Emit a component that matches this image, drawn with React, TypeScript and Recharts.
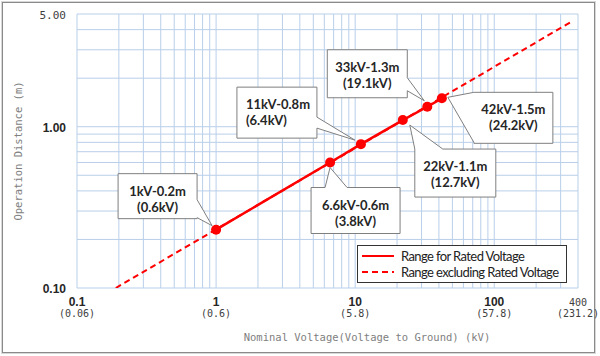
import { ComposedChart, Line, XAxis, YAxis, ReferenceLine, LabelList, Legend, Label } from 'recharts';

// rated voltage range (kV nominal -> operation distance m)
const ratedKV = [1, 6.6, 11, 22, 33, 42];
const ratedDist = [0.23, 0.6, 0.78, 1.1, 1.33, 1.5];
// extension outside rated voltage
const extKV = [0.19, 370];
const extDist = [0.1, 4.55];

const calloutTitle = ['1kV-0.2m', '6.6kV-0.6m', '11kV-0.8m', '22kV-1.1m', '33kV-1.3m', '42kV-1.5m'];
const calloutSub = ['(0.6kV)', '(3.8kV)', '(6.4kV)', '(12.7kV)', '(19.1kV)', '(24.2kV)'];

const xTicks = [0.1, 1, 10, 100, 400];
const xTickGround = ['(0.06)', '(0.6)', '(5.8)', '(57.8)', '(231.2)'];
const yTicks = [0.1, 1, 5];
const yTickText = ['0.10', '1.00', '5.00'];

const gridX = [0.1, 0.2, 0.3, 0.4, 0.5, 0.6, 0.7, 0.8, 0.9, 1, 2, 3, 4, 5, 6, 7, 8, 9, 10, 20, 30, 40, 50, 60, 70, 80, 90, 100, 200, 300, 400];
const gridY = [0.1, 0.2, 0.3, 0.4, 0.5, 0.6, 0.7, 0.8, 0.9, 1, 2, 3, 4, 5];

const legendNames = ['Range for Rated Voltage', 'Range excluding Rated Voltage'];

const rated = ratedKV.map((x, i) => ({ x, y: ratedDist[i] }));
const extended = extKV.map((x, i) => ({ x, y: extDist[i] }));

// callout box placement relative to its point (pixels)
const calloutLayout = [
  { bx: -98, by: -56, w: 79, h: 45, side: 'right', b0: -30, b1: -12, tx: -4, ty: -4, align: 'middle' },
  { bx: -19, by: 25, w: 89, h: 46, side: 'top', b0: -5, b1: 17, tx: 0, ty: 5, align: 'middle' },
  { bx: -124, by: -57, w: 80, h: 51, side: 'right', b0: -27, b1: -16, tx: -6, ty: -4, align: 'start' },
  { bx: 12, by: 29, w: 81, h: 48, side: 'top', b0: 12, b1: 40, tx: 7, ty: 5, align: 'middle' },
  { bx: -100, by: -57, w: 80, h: 48, side: 'right', b0: -29, b1: -16, tx: -3, ty: -6, align: 'middle' },
  { bx: 32, by: -6, w: 79, h: 51, side: 'left', b0: -6, b1: 44, tx: 6, ty: -1, align: 'middle' },
];

const mono = '"DejaVu Sans Mono", monospace';
const body = 'Lato, "Liberation Sans", sans-serif';
const gridColor = '#b9cfea';

function Callout(props: any) {
  const { x, y, index } = props;
  const c = calloutLayout[index];
  if (!c) return null;
  const x0 = x + c.bx, y0 = y + c.by, x1 = x0 + c.w, y1 = y0 + c.h;
  const tip = `${x + c.tx},${y + c.ty}`;
  let pts: string[] = [];
  if (c.side === 'top') pts = [`${x0},${y0}`, `${x + c.b0},${y0}`, tip, `${x + c.b1},${y0}`, `${x1},${y0}`, `${x1},${y1}`, `${x0},${y1}`];
  if (c.side === 'right') pts = [`${x0},${y0}`, `${x1},${y0}`, `${x1},${y + c.b0}`, tip, `${x1},${y + c.b1}`, `${x1},${y1}`, `${x0},${y1}`];
  if (c.side === 'left') pts = [`${x0},${y0}`, `${x1},${y0}`, `${x1},${y1}`, `${x0},${y1}`, `${x0},${y + c.b1}`, tip, `${x0},${y + c.b0}`];
  const tx = c.align === 'start' ? x0 + 9 : (x0 + x1) / 2;
  return (
    <g>
      <polygon points={pts.join(' ')} fill="#ffffff" stroke="#7f7f7f" strokeWidth={1} />
      <text x={tx} y={y0 + 17} textAnchor={c.align} dominantBaseline="central" fontFamily={body} fontWeight={700} fontSize={13} fill="#262626">{calloutTitle[index]}</text>
      <text x={tx} y={y0 + 33} textAnchor={c.align} dominantBaseline="central" fontFamily={body} fontWeight={700} fontSize={13} fill="#262626">{calloutSub[index]}</text>
    </g>
  );
}

function XTick(props: any) {
  const { x, y, payload } = props;
  const i = xTicks.indexOf(payload.value);
  const last = payload.value === 400;
  return (
    <g>
      <text x={x} y={y + 14} textAnchor="middle" dominantBaseline="central"
        fontFamily={last ? mono : '"Liberation Sans", sans-serif'} fontWeight={last ? 400 : 700} fontSize={last ? 10 : 12} fill={last ? '#404040' : '#262626'}>
        {payload.value}
      </text>
      <text x={x} y={y + 25} textAnchor="middle" dominantBaseline="central" fontFamily={mono} fontSize={10} fill="#404040">
        {xTickGround[i]}
      </text>
    </g>
  );
}

function YTick(props: any) {
  const { x, y, payload } = props;
  const i = yTicks.indexOf(payload.value);
  const top = payload.value === 5;
  return (
    <text x={x - 11} y={y + 1} textAnchor="end" dominantBaseline="central"
      fontFamily={top ? mono : '"Liberation Sans", sans-serif'} fontWeight={top ? 400 : 700} fontSize={top ? 11 : 12} fill={top ? '#404040' : '#262626'}>
      {yTickText[i]}
    </text>
  );
}

function LegendBox() {
  return (
    <div style={{ boxSizing: 'border-box', width: 210, height: 38, border: '1.5px solid #333', background: '#fff', padding: '2px 0 0 4px', fontFamily: body, fontSize: 13, letterSpacing: -0.6, color: '#222', whiteSpace: 'nowrap' }}>
      {legendNames.map((n, i) => (
        <div key={n} style={{ display: 'flex', alignItems: 'center', height: 16 }}>
          <svg width={32} height={6} style={{ marginRight: 7, flex: 'none' }}>
            <line x1={0} y1={3} x2={32} y2={3} stroke="#ff0000" strokeWidth={2} strokeDasharray={i === 1 ? '6 4' : undefined} />
          </svg>
          <span>{n}</span>
        </div>
      ))}
    </div>
  );
}

export default function App() {
  return (
    <div style={{ position: 'absolute', left: 0, top: 0, width: 600, height: 356, background: '#fff' }}>
      <div style={{ position: 'absolute', left: 2, top: 2, width: 591, height: 349, border: '1px solid #8a8a8a', boxShadow: '0 0 0 1px #d8d8d8' }} />
      <ComposedChart width={600} height={356} margin={{ top: 14, right: 22, bottom: 0, left: 0 }} style={{ position: 'absolute', left: 0, top: 0 }}>
        <XAxis dataKey="x" type="number" scale="log" domain={[0.1, 400]} ticks={xTicks} allowDataOverflow
          axisLine={false} tickLine={false} tickSize={0} tickMargin={0} height={68} tick={<XTick />} interval={0}>
          <Label content={() => (
            <text x={367} y={337} textAnchor="middle" dominantBaseline="central" fontFamily={mono} fontSize={10.5} fill="#808080">
              Nominal Voltage(Voltage to Ground) (kV)
            </text>
          )} />
        </XAxis>
        <YAxis dataKey="y" type="number" scale="log" domain={[0.1, 5]} ticks={yTicks} allowDataOverflow
          axisLine={false} tickLine={false} tickSize={0} tickMargin={0} width={77} tick={<YTick />} interval={0}>
          <Label content={() => (
            <text x={18} y={151} textAnchor="middle" dominantBaseline="central" fontFamily={mono} fontSize={10.5} fill="#808080" transform="rotate(-90 18 151)">
              Operation Distance (m)
            </text>
          )} />
        </YAxis>
        {gridX.map((v) => <ReferenceLine key={'gx' + v} x={v} stroke={gridColor} strokeWidth={1} ifOverflow="extendDomain" />)}
        {gridY.map((v) => <ReferenceLine key={'gy' + v} y={v} stroke={gridColor} strokeWidth={1} ifOverflow="extendDomain" />)}
        <Line data={extended} dataKey="y" stroke="#ff0000" strokeWidth={2} strokeDasharray="6 4" dot={false} activeDot={false} isAnimationActive={false} legendType="none" />
        <Line data={rated} dataKey="y" stroke="#ff0000" strokeWidth={2.5} dot={{ r: 5, fill: '#ff0000', stroke: '#ff0000', strokeWidth: 0 }} activeDot={false} isAnimationActive={false}>
          <LabelList dataKey="y" content={<Callout />} />
        </Line>
        <Legend layout="horizontal" verticalAlign="middle" align="center" content={<LegendBox />}
          wrapperStyle={{ left: 357, top: 245, width: 210, height: 38 }} />
      </ComposedChart>
    </div>
  );
}
